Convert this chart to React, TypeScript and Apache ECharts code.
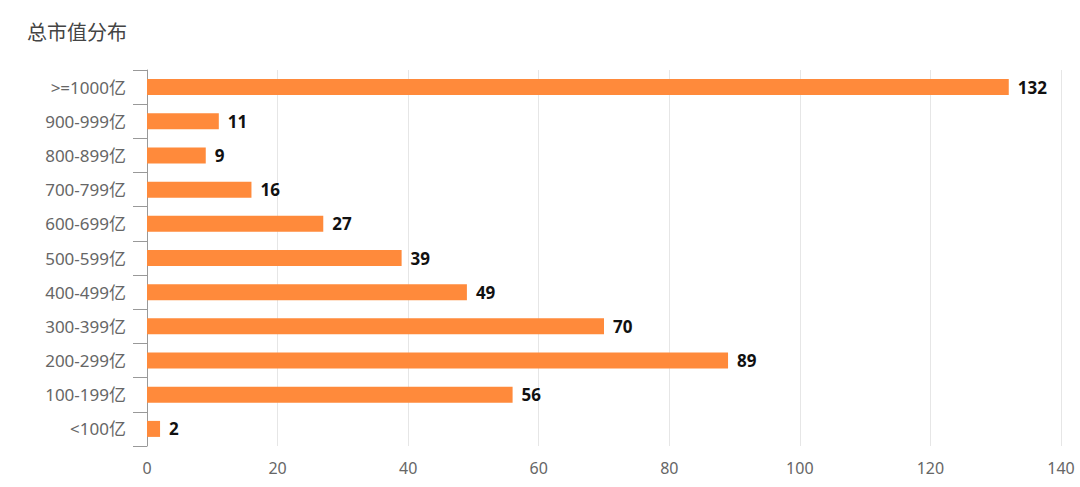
import React, { useEffect, useRef } from "react";
import * as echarts from "echarts";

const categories = ["<100亿", "100-199亿", "200-299亿", "300-399亿", "400-499亿", "500-599亿", "600-699亿", "700-799亿", "800-899亿", "900-999亿", ">=1000亿"];
const counts = [2, 56, 89, 70, 49, 39, 27, 16, 9, 11, 132];
const titleText = "总市值分布";

export default function App() {
  const ref = useRef<HTMLDivElement>(null);
  useEffect(() => {
    if (!ref.current) return;
    const chart = echarts.init(ref.current, undefined, { renderer: "svg" });
    chart.setOption({
      animation: false,
      backgroundColor: "#ffffff",
      title: {
        text: titleText,
        left: 22,
        top: 16,
        textStyle: { fontSize: 20, fontWeight: "normal", color: "#444", fontFamily: "Noto Sans CJK SC" },
      },
      grid: { left: 147, right: 19, top: 70, bottom: 41, containLabel: false },
      xAxis: {
        type: "value",
        min: 0,
        max: 140,
        interval: 20,
        axisLine: { show: false },
        axisTick: { show: false },
        splitLine: { show: true, lineStyle: { color: "#e6e6e6", width: 1 } },
        axisLabel: { color: "#666", fontSize: 16, margin: 14, fontFamily: "Noto Sans" },
      },
      yAxis: {
        type: "category",
        data: categories,
        axisLine: { show: true, lineStyle: { color: "#999", width: 1 } },
        axisTick: { show: true, length: 14, lineStyle: { color: "#999" } },
        axisLabel: { color: "#666", fontSize: 17, margin: 21, fontFamily: "Noto Sans, Noto Sans CJK SC" },
      },
      series: [
        {
          type: "bar",
          data: counts,
          barWidth: 16,
          itemStyle: { color: "#FF8A3B" },
          label: {
            show: true,
            position: "right",
            distance: 9,
            color: "#111",
            fontWeight: "bold",
            fontSize: 17,
            fontFamily: "Noto Sans",
          },
        },
      ],
    });
    return () => chart.dispose();
  }, []);
  return <div ref={ref} style={{ width: 1080, height: 487, position: "absolute", left: 0, top: 0 }} />;
}
